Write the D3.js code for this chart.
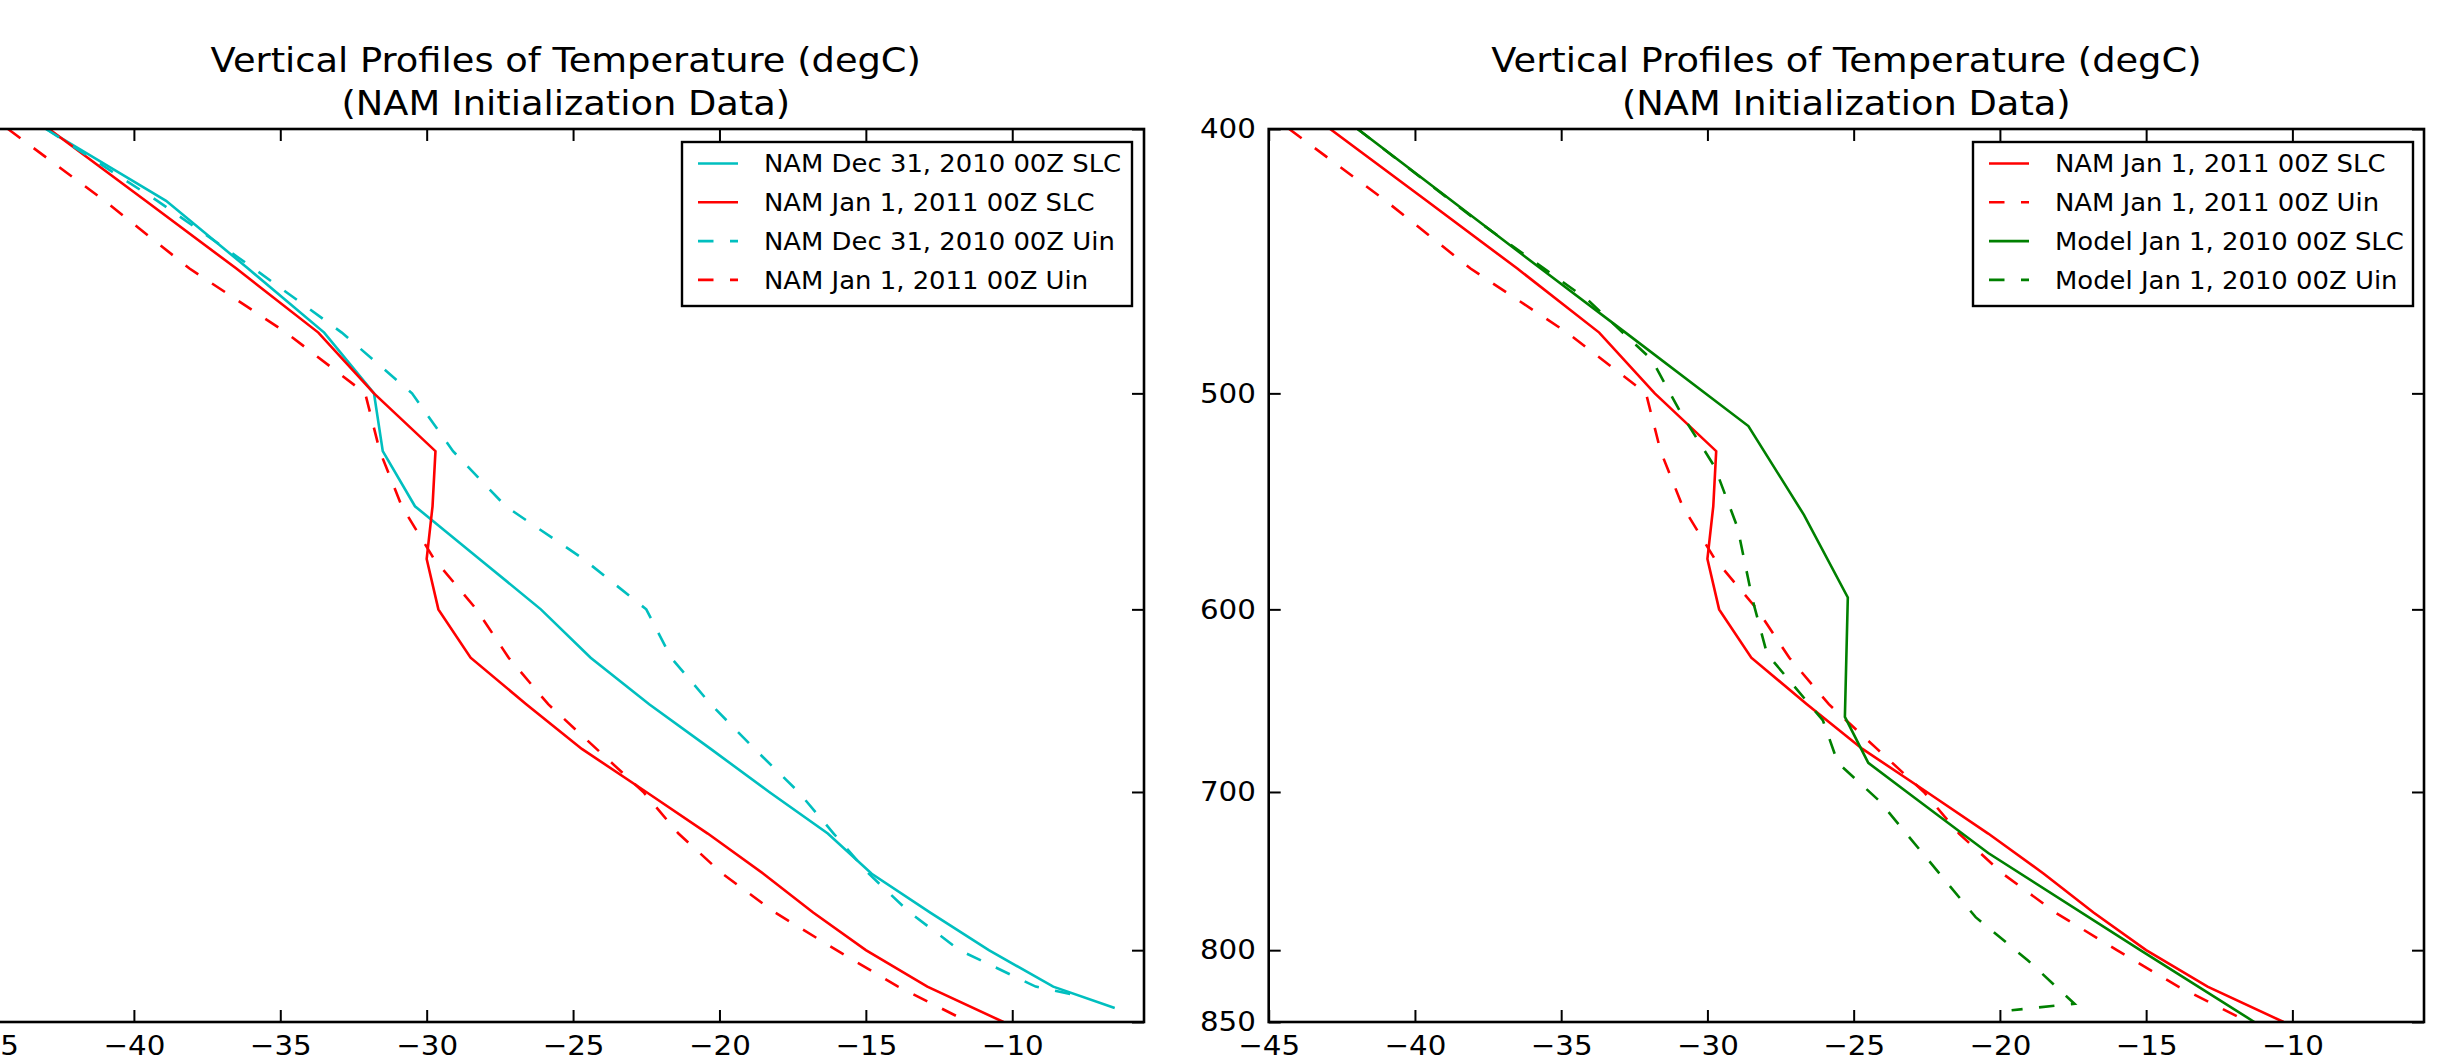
<!DOCTYPE html>
<html>
<head>
<meta charset="utf-8">
<script src="https://cdn.jsdelivr.net/npm/d3@7"></script>
<style>
  body { margin: 0; background: #fff; }
  svg { display: block; }
  text { font-family: "DejaVu Sans", sans-serif; fill: #000; }
</style>
</head>
<body>
<svg id="svg0" width="2439" height="1055"></svg>
<script>
// NAM pressure levels (mb)
var levels = [400, 425, 450, 475, 500, 525, 550, 575, 600, 625, 650, 675, 700, 725, 750, 775, 800, 825, 850];

var namJan1SLC = [-42.9, -39.6, -36.5, -33.7, -31.8, -29.7, -29.8, -30.0, -29.6, -28.5, -26.6, -24.7, -22.5, -20.4, -18.5, -16.8, -15.0, -12.9, -10.3];
var namJan1Uin = [-44.3, -41.0, -38.1, -34.8, -32.1, -31.6, -30.85, -29.75, -28.3, -27.2, -25.85, -24.2, -22.6, -21.4, -19.9, -18.1, -16.0, -13.9, -11.5];

var namDec31SLCLevels = [400, 425, 450, 475, 500, 525, 550, 575, 600, 625, 650, 675, 700, 725, 750, 775, 800, 825, 840];
var namDec31SLC = [-43.0, -38.9, -36.1, -33.5, -31.8, -31.5, -30.4, -28.2, -26.1, -24.4, -22.4, -20.3, -18.3, -16.3, -14.8, -12.8, -10.8, -8.6, -6.5];

var namDec31UinLevels = [400, 425, 450, 475, 500, 525, 550, 575, 600, 625, 650, 675, 700, 725, 750, 775, 800, 825, 832];
var namDec31Uin = [-43.0, -39.2, -35.9, -32.9, -30.5, -29.1, -27.3, -24.65, -22.5, -21.65, -20.3, -18.8, -17.3, -16.1, -14.9, -13.5, -11.8, -9.2, -7.6];

// model output sits on its own levels
var modelSLCLevels = [400, 450, 475, 514, 554, 594, 657, 683, 701, 737, 800, 850];
var modelSLC = [-41.96, -35.7, -32.8, -28.6, -26.7, -25.2, -25.3, -24.5, -23.1, -20.4, -15.2, -11.3];

var modelUinLevels = [400, 432, 462, 486, 508.5, 532, 560, 595, 623, 659, 683, 705, 735, 778, 807, 837, 841.6];
var modelUin = [-41.96, -37.9, -34.1, -31.9, -30.9, -29.75, -28.97, -28.46, -27.96, -26.05, -25.54, -24.14, -22.74, -20.83, -19.04, -17.45, -19.6];

var xTicks = [-45, -40, -35, -30, -25, -20, -15, -10];
var yTicks = [400, 500, 600, 700, 800, 850];

var titleLines = ['Vertical Profiles of Temperature (degC)', '(NAM Initialization Data)'];

var cyan = '#00bfbf', red = '#ff0000', green = '#008000';
var dash = '15.5,16.5';
var sx = 1.07;   // the source text is a bit wide

var svg = d3.select('#svg0');

var plotTop = 129, plotBottom = 1022;

var y = d3.scaleLog()
    .domain([400, 850])
    .range([plotTop, plotBottom]);

function series(lv, t, color, dashed, label) {
    return {pts: lv.map(function (p, i) { return [p, t[i]]; }), color: color, dashed: dashed, label: label};
}

var panels = [
    {
        x0: -12.5, x1: 1144, legendX: 682,
        lines: [
            series(namDec31SLCLevels, namDec31SLC, cyan, false, 'NAM Dec 31, 2010 00Z SLC'),
            series(levels, namJan1SLC, red, false, 'NAM Jan 1, 2011 00Z SLC'),
            series(namDec31UinLevels, namDec31Uin, cyan, true, 'NAM Dec 31, 2010 00Z Uin'),
            series(levels, namJan1Uin, red, true, 'NAM Jan 1, 2011 00Z Uin')
        ]
    },
    {
        x0: 1268.7, x1: 2424, legendX: 1973,
        lines: [
            series(levels, namJan1SLC, red, false, 'NAM Jan 1, 2011 00Z SLC'),
            series(levels, namJan1Uin, red, true, 'NAM Jan 1, 2011 00Z Uin'),
            series(modelSLCLevels, modelSLC, green, false, 'Model Jan 1, 2010 00Z SLC'),
            series(modelUinLevels, modelUin, green, true, 'Model Jan 1, 2010 00Z Uin')
        ]
    }
];

panels.forEach(function (pn, k) {
    var x = d3.scaleLinear()
        .domain([-45, -5.5])
        .range([pn.x0, pn.x1]);

    var g = svg.append('g');

    svg.append('clipPath')
        .attr('id', 'clip' + k)
        .append('rect')
        .attr('x', pn.x0).attr('y', plotTop)
        .attr('width', pn.x1 - pn.x0).attr('height', plotBottom - plotTop);

    var line = d3.line()
        .x(function (d) { return x(d[1]); })
        .y(function (d) { return y(d[0]); });

    g.append('g')
        .attr('clip-path', 'url(#clip' + k + ')')
        .selectAll('path')
        .data(pn.lines)
        .enter()
        .append('path')
        .attr('d', function (d) { return line(d.pts); })
        .attr('fill', 'none')
        .attr('stroke', function (d) { return d.color; })
        .attr('stroke-width', 2.6)
        .attr('stroke-dasharray', function (d) { return d.dashed ? dash : null; });

    // axes, ticks pointing inward on all four sides
    var axB = g.append('g')
        .attr('transform', 'translate(0,' + plotBottom + ')')
        .call(d3.axisBottom(x).tickValues(xTicks).tickSize(-12).tickPadding(13.5));
    g.append('g')
        .attr('transform', 'translate(0,' + plotTop + ')')
        .call(d3.axisTop(x).tickValues(xTicks).tickSize(-12).tickFormat(''));
    var axL = g.append('g')
        .attr('transform', 'translate(' + pn.x0 + ',0)')
        .call(d3.axisLeft(y).tickValues(yTicks).tickSize(-12).tickPadding(12).tickFormat(d3.format('d')));
    g.append('g')
        .attr('transform', 'translate(' + pn.x1 + ',0)')
        .call(d3.axisRight(y).tickValues(yTicks).tickSize(-12).tickFormat(''));

    g.selectAll('.domain').remove();
    g.selectAll('.tick line').attr('stroke', '#000').attr('stroke-width', 2);
    axB.selectAll('text').attr('font-size', 27.4).attr('font-family', 'DejaVu Sans')
        .attr('transform', 'scale(' + sx + ',1)');
    axL.selectAll('text').attr('font-size', 27.4).attr('font-family', 'DejaVu Sans')
        .attr('transform', 'scale(' + sx + ',1)');

    g.append('rect')
        .attr('x', pn.x0).attr('y', plotTop)
        .attr('width', pn.x1 - pn.x0).attr('height', plotBottom - plotTop)
        .attr('fill', 'none')
        .attr('stroke', '#000')
        .attr('stroke-width', 2.6);

    // title
    var cx = (pn.x0 + pn.x1) / 2;
    g.selectAll('.title')
        .data(titleLines)
        .enter()
        .append('text')
        .attr('class', 'title')
        .attr('transform', function (d, i) { return 'translate(' + cx + ',' + (72 + i * 43.3) + ') scale(' + sx + ',1)'; })
        .attr('text-anchor', 'middle')
        .attr('font-size', 34.4)
        .text(function (d) { return d; });

    // legend
    var lw = k == 0 ? 450 : 440;
    var leg = g.append('g').attr('transform', 'translate(' + pn.legendX + ',142)');
    leg.append('rect')
        .attr('width', lw).attr('height', 164)
        .attr('fill', '#fff')
        .attr('stroke', '#000')
        .attr('stroke-width', 2.4);

    var row = leg.selectAll('.row')
        .data(pn.lines)
        .enter()
        .append('g')
        .attr('transform', function (d, i) { return 'translate(0,' + (21.5 + i * 38.8) + ')'; });

    row.append('line')
        .attr('x1', 16).attr('x2', 56)
        .attr('stroke', function (d) { return d.color; })
        .attr('stroke-width', 2.6)
        .attr('stroke-dasharray', function (d) { return d.dashed ? dash : null; });

    row.append('text')
        .attr('transform', 'translate(82,0) scale(' + sx + ',1)')
        .attr('dy', '0.36em')
        .attr('font-size', 24.2)
        .text(function (d) { return d.label; });
});
</script>
</body>
</html>
